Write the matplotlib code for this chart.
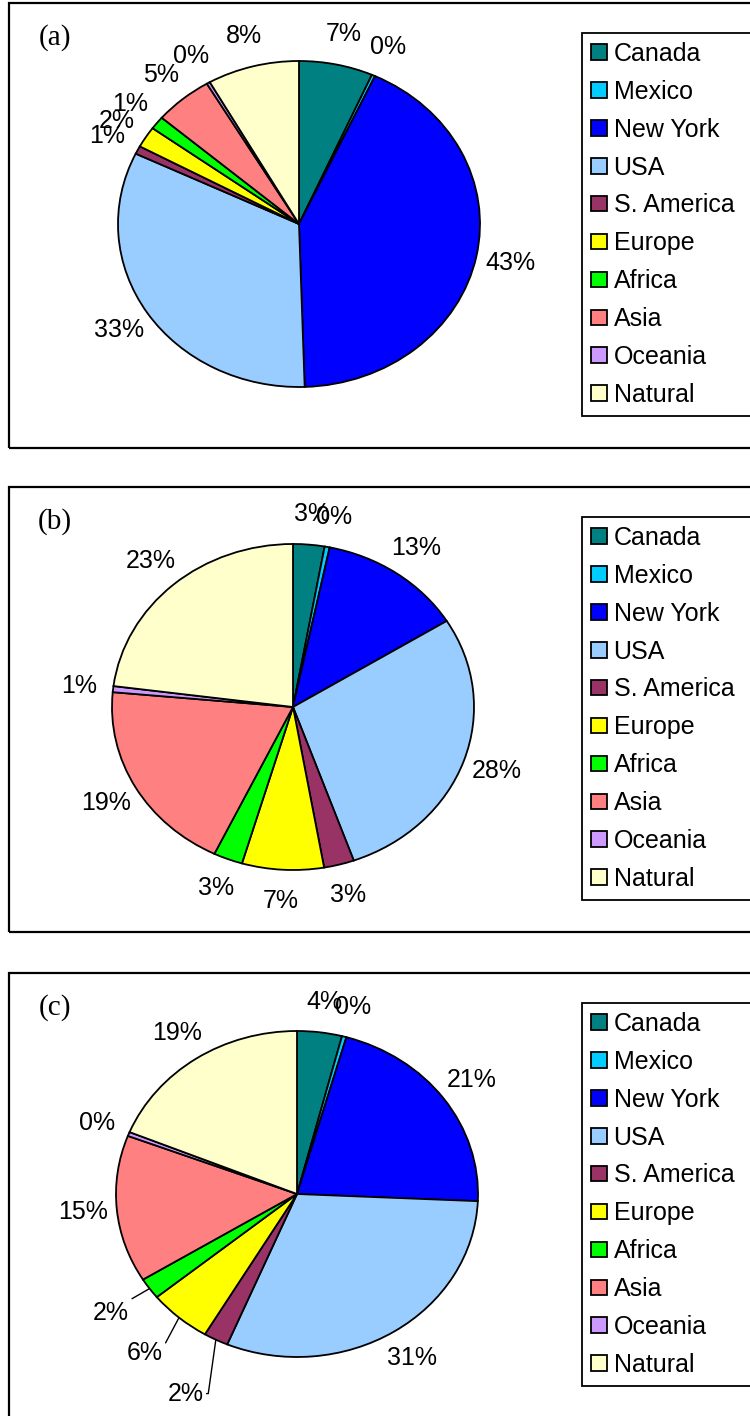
import numpy as np
import matplotlib.pyplot as plt
from matplotlib.patches import Rectangle

# categories and colours (Excel palette)
regions = ["Canada", "Mexico", "New York", "USA", "S. America",
           "Europe", "Africa", "Asia", "Oceania", "Natural"]
colors = ["#008080", "#00CCFF", "#0000FF", "#99CCFF", "#993366",
          "#FFFF00", "#00FF00", "#FF8080", "#CC99FF", "#FFFFCC"]

# percent shares
share_a = [6.6, 0.3, 42.6, 32.6, 0.8, 2.1, 1.3, 5.2, 0.3, 8.2]
share_b = [2.8, 0.45, 12.9, 28.4, 2.7, 7.3, 2.6, 19.3, 0.6, 22.95]
share_c = [4.0, 0.4, 21.3, 30.6, 2.2, 5.6, 2.1, 14.6, 0.4, 18.8]
tags = ["(a)", "(b)", "(c)"]

W, H = 750, 1416
RX, RY = 181, 163  # pie is drawn a bit wider than tall
FS = 18

def fx(px):
    return px / W

def fy(py):
    return 1 - py / H

fig = plt.figure(figsize=(7.5, 14.16), dpi=100)

box_top = [3, 487, 973]
box_bot = [448, 932, 1425]
pie_cx = [299, 293, 297]
pie_cy = [224, 707, 1194]
leg_top = [33, 517, 1003]

# labels in (c) that were dragged out with leader lines: index -> (distance, angle of leader end)
leaders = [{}, {}, {4: (1.37, 82), 5: (1.29, 62), 6: (1.26, 30)}]

for k, shares in enumerate([share_a, share_b, share_c]):
    # panel frame
    fig.add_artist(Rectangle((fx(9), fy(box_bot[k])), fx(800), (box_bot[k] - box_top[k]) / H,
                             transform=fig.transFigure, fill=False, ec="black", lw=1.6))

    cx, cy = pie_cx[k], pie_cy[k]
    ax = fig.add_axes([fx(cx - 1.25 * RX), fy(cy + 1.25 * RY), 2.5 * RX / W, 2.5 * RY / H])
    wedges, _ = ax.pie(shares, colors=colors, startangle=90, counterclock=False,
                       wedgeprops=dict(edgecolor="black", linewidth=1.3))
    ax.set_aspect("auto")
    ax.set_xlim(-1.25, 1.25)
    ax.set_ylim(-1.25, 1.25)

    vals = np.array(shares, dtype=float)
    pct = 100 * vals / vals.sum()
    cum = np.cumsum(pct)
    for i, p in enumerate(pct):
        th = np.radians(3.6 * (cum[i] - p / 2))
        lab = f"{p:.0f}%"
        if i in leaders[k]:
            d, angB = leaders[k][i]
            ax.annotate(lab, xy=(np.sin(th), np.cos(th)), xytext=(d * np.sin(th), d * np.cos(th)),
                        ha="center", va="center", fontsize=FS, family="Liberation Sans",
                        arrowprops=dict(arrowstyle="-", color="black", lw=1.0, shrinkA=0, shrinkB=0,
                                        relpos=(1, 0.5),
                                        connectionstyle=f"angle,angleA=0,angleB={angB},rad=0"))
        else:
            d = 1.19
            ax.text(d * np.sin(th), d * np.cos(th), lab, ha="center", va="center",
                    fontsize=FS, family="Liberation Sans")

    fig.text(fx(55), fy(box_top[k] + 35), tags[k], ha="center", va="center",
             fontsize=21, family="Liberation Serif")

    leg = fig.legend(wedges, regions, loc="upper left",
                     bbox_to_anchor=(fx(582), fy(leg_top[k]) - 380 / H, 200 / W, 380 / H),
                     mode="expand", borderaxespad=0,
                     prop={"family": "Liberation Sans", "size": FS},
                     handlelength=0.62, handleheight=0.58, handletextpad=0.28,
                     labelspacing=0.555, borderpad=0.36,
                     fancybox=False, framealpha=1, edgecolor="black")
    leg.get_frame().set_linewidth(1.3)

fig.savefig("out.png", dpi=100)
